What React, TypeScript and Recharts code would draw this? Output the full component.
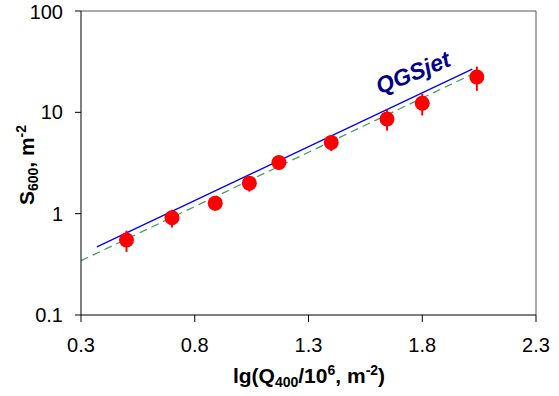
import React from "react";
import { ComposedChart, Scatter, Line, XAxis, YAxis, ErrorBar, ReferenceLine } from "recharts";

// measured points
const lgQ = [0.5, 0.7, 0.89, 1.04, 1.17, 1.4, 1.645, 1.8, 2.04];
const s600 = [0.55, 0.91, 1.27, 2.0, 3.2, 5.05, 8.6, 12.3, 22.3];
const s600Err = [0.13, 0.18, 0.2, 0.35, 0.5, 0.9, 2.0, 3.0, 6.0];

// model lines (straight in log scale, two ends each)
const qgsX = [0.37, 2.02];
const qgsY = [0.47, 26.7];
const fitX = [0.3, 2.02];
const fitY = [0.343, 23.8];

const xTicks = [0.3, 0.8, 1.3, 1.8, 2.3];
const yTicks = [0.1, 1, 10, 100];

const points = lgQ.map((x, i) => ({ x, y: s600[i], err: s600Err[i] }));
const qgsData = qgsX.map((x, i) => ({ x, y: qgsY[i] }));
const fitData = fitX.map((x, i) => ({ x, y: fitY[i] }));

const font = "'Liberation Sans', Arial, sans-serif";

const Dot = (props: any) => <circle cx={props.cx} cy={props.cy} r={7.5} fill="#ff0000" />;

export default function App() {
  return (
    <div style={{ position: "absolute", left: 0, top: 0, background: "#fff" }}>
      <ComposedChart width={559} height={396} margin={{ top: 11, right: 23, left: 0, bottom: 0 }}>
        <XAxis
          type="number"
          dataKey="x"
          domain={[0.3, 2.3]}
          ticks={xTicks}
          tickFormatter={(v) => String(v)}
          height={81}
          tickSize={7}
          tickMargin={16}
          stroke="#000"
          tick={{ fill: "#000", fontSize: 20, fontFamily: font }}
          allowDataOverflow
          label={{
            content: () => (
              <text x={309} y={383} textAnchor="middle" fontFamily={font} fontWeight="bold" fontSize={21} fill="#000">
                lg(Q<tspan fontSize={14} dy={4}>400</tspan>
                <tspan dy={-4}>/10</tspan>
                <tspan fontSize={14} dy={-8}>6</tspan>
                <tspan dy={8}>, m</tspan>
                <tspan fontSize={14} dy={-8}>-2</tspan>
                <tspan dy={8}>)</tspan>
              </text>
            ),
          }}
        />
        <YAxis
          type="number"
          dataKey="y"
          scale="log"
          domain={[0.1, 100]}
          ticks={yTicks}
          tickFormatter={(v) => String(v)}
          width={81}
          tickSize={6}
          tickMargin={12}
          stroke="#000"
          tick={{ fill: "#000", fontSize: 20, fontFamily: font }}
          allowDataOverflow
          label={{
            content: () => (
              <text
                x={0}
                y={0}
                transform="translate(34,165) rotate(-90)"
                textAnchor="middle"
                fontFamily={font}
                fontWeight="bold"
                fontSize={21}
                fill="#000"
              >
                S<tspan fontSize={14} dy={4}>600</tspan>
                <tspan dy={-4}>, m</tspan>
                <tspan fontSize={14} dy={-8}>-2</tspan>
              </text>
            ),
          }}
        />
        <ReferenceLine y={100} stroke="#555" strokeWidth={1} />
        <ReferenceLine x={2.3} stroke="#555" strokeWidth={1} />
        <Line data={fitData} dataKey="y" stroke="#3a9a5c" strokeWidth={1.2} strokeDasharray="8 5" dot={false} isAnimationActive={false} />
        <Line data={qgsData} dataKey="y" stroke="#0000ff" strokeWidth={1.3} dot={false} isAnimationActive={false} />
        <Scatter data={points} dataKey="y" shape={Dot} isAnimationActive={false}>
          <ErrorBar dataKey="err" direction="y" width={0} stroke="#ff0000" strokeWidth={2} />
        </Scatter>
        <text
          x={0}
          y={0}
          transform="translate(416,80) rotate(-22)"
          textAnchor="middle"
          fontFamily={font}
          fontWeight="bold"
          fontStyle="italic"
          fontSize={23}
          fill="#00008b"
        >
          QGSjet
        </text>
      </ComposedChart>
    </div>
  );
}
